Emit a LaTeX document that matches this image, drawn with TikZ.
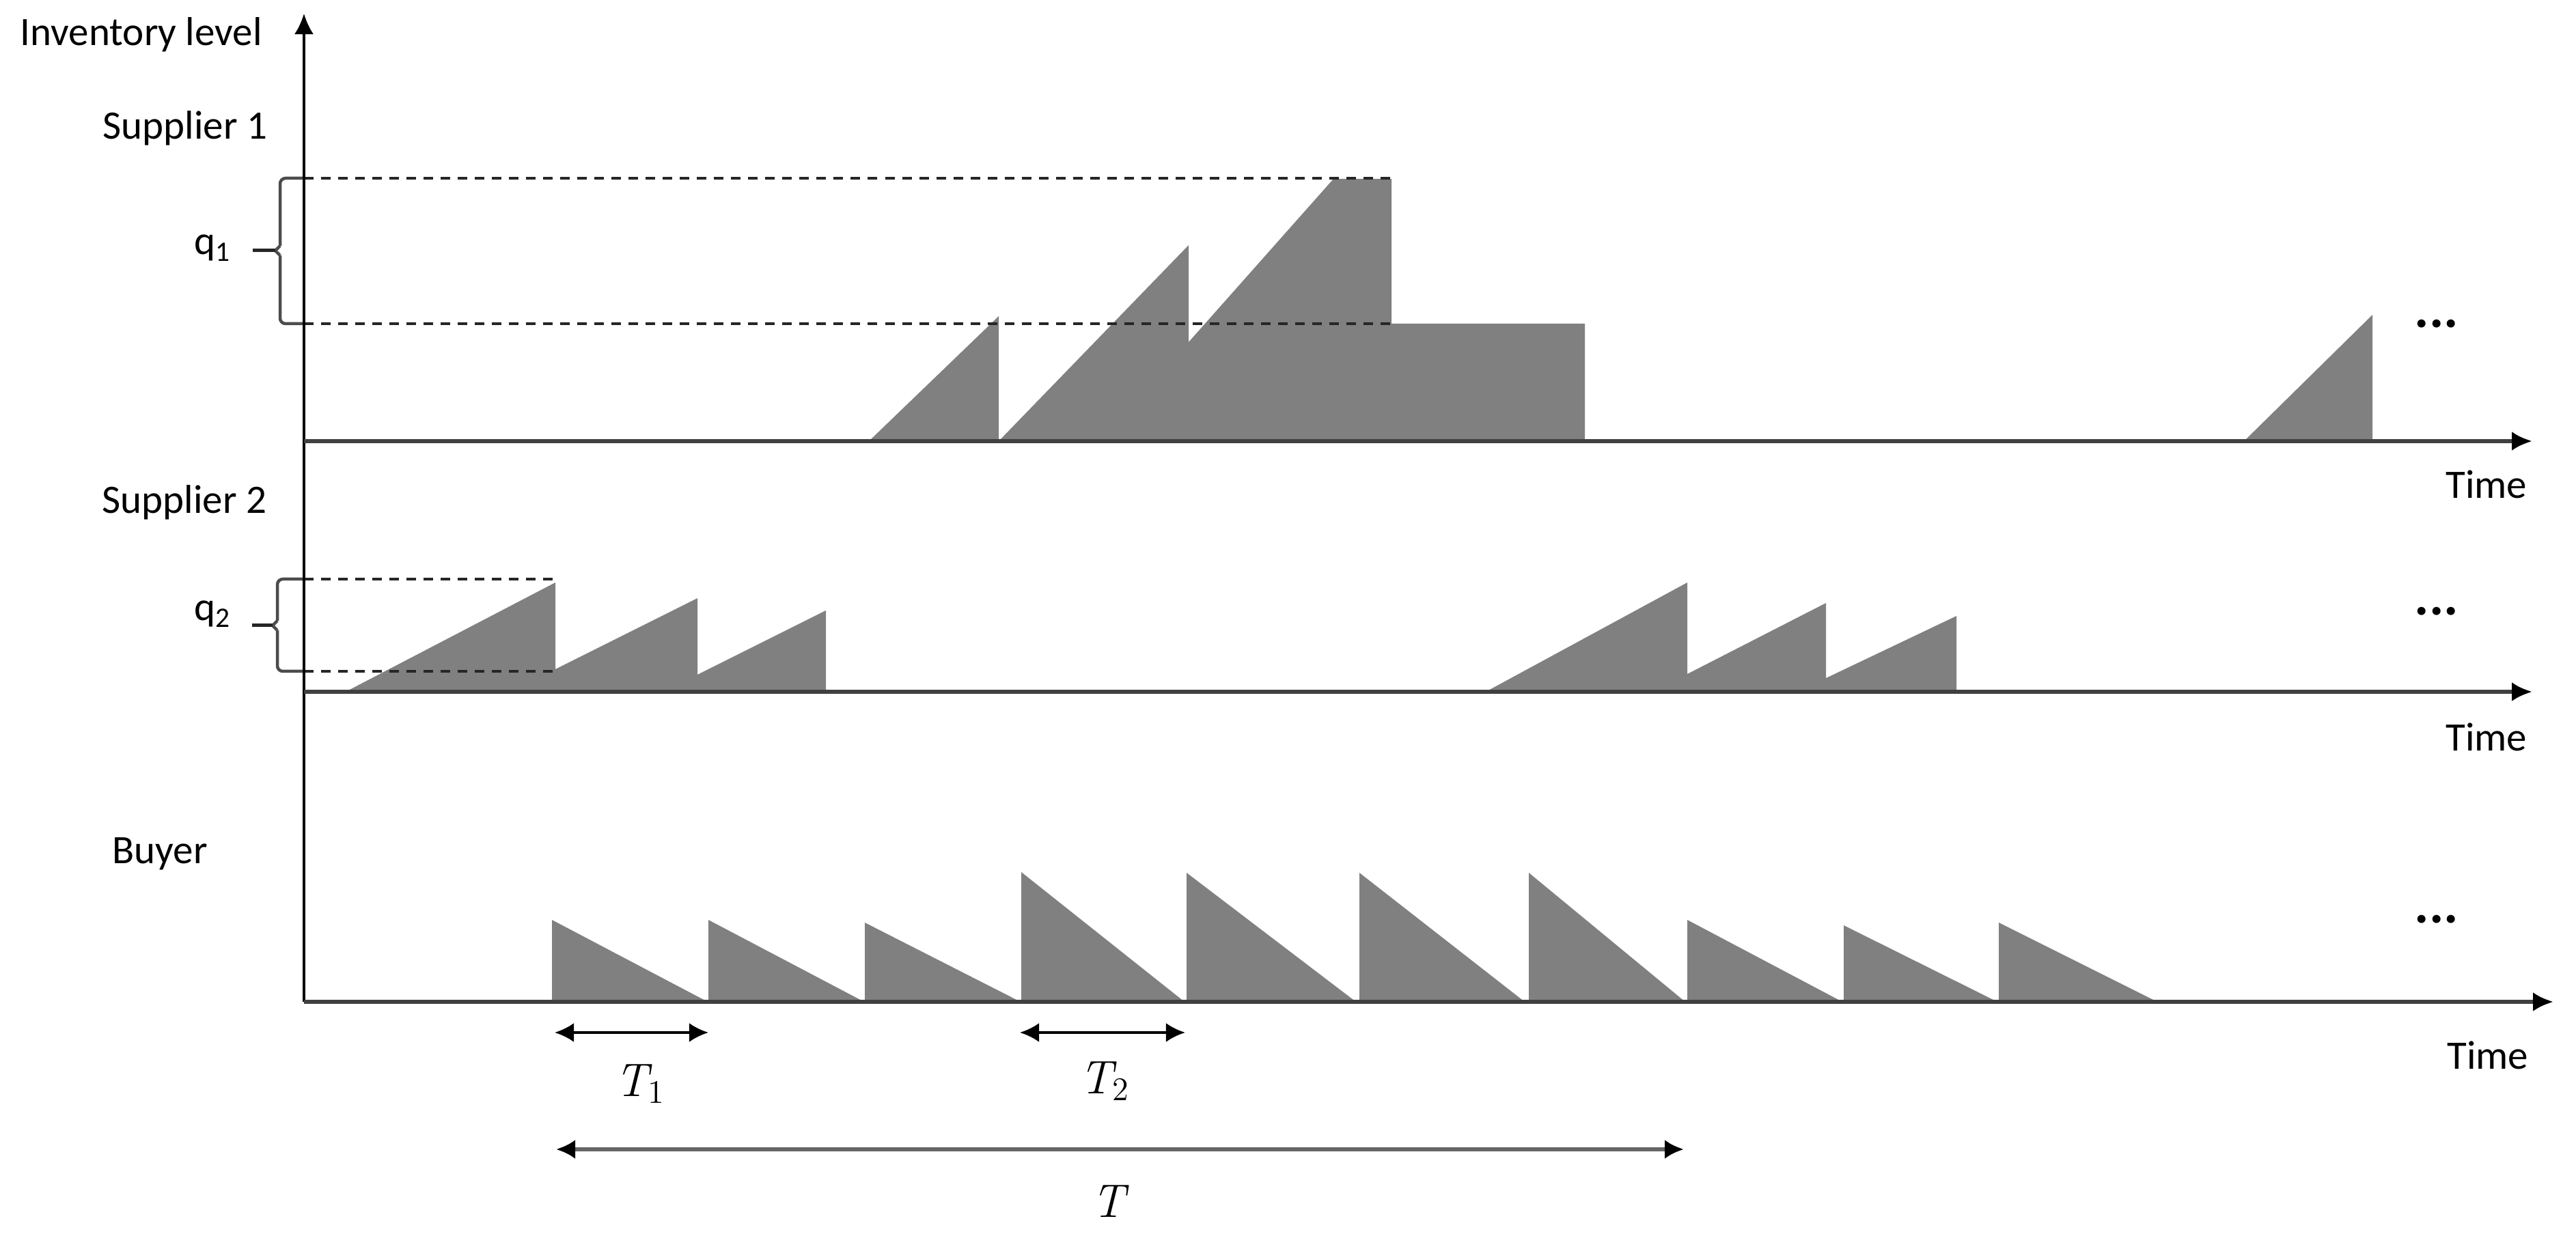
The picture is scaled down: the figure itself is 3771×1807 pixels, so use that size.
\documentclass[tikz,border=0pt]{standalone}
\usepackage{fontspec}
\setmainfont{Carlito}
\newfontfamily\lmrfont{Latin Modern Roman}
\usetikzlibrary{arrows.meta}
\definecolor{fillgray}{RGB}{128,128,128}
\begin{document}
\begin{tikzpicture}[x=0.01cm,y=-0.01cm,
  axisline/.style={line width=0.055cm, black!75, -{Latex[black,length=0.3cm,width=0.28cm]}},
  yaxisline/.style={line width=0.035cm, black, -{Latex[black,length=0.3cm,width=0.28cm]}},
  inv/.style={fill=fillgray, draw=none},
  qdash/.style={line width=0.04cm, black!85, dash pattern=on 0.14cm off 0.11cm},
  bracepen/.style={line width=0.045cm, black!70},
  dimarrow/.style={line width=0.04cm, black, {Latex[black,length=0.28cm,width=0.28cm]}-{Latex[black,length=0.28cm,width=0.28cm]}},
  longarrow/.style={line width=0.06cm, black!60, {Latex[black,length=0.28cm,width=0.28cm]}-{Latex[black,length=0.28cm,width=0.28cm]}},
  lbl/.style={font=\fontsize{16.8}{20}\selectfont, inner sep=0pt},
  dotlbl/.style={font=\bfseries\fontsize{22.8}{24}\selectfont, inner sep=0pt},
  mlbl/.style={font=\lmrfont\fontsize{19.6}{22}\selectfont, inner sep=0pt}]
\useasboundingbox (0,0) rectangle (3771,1807);

% ---------- coordinates ----------
\coordinate (O) at (445,1467);
\coordinate (ytop) at (445,20);
\coordinate (s1a) at (445,646);  \coordinate (s1b) at (3707,646);
\coordinate (s2a) at (445,1013); \coordinate (s2b) at (3707,1013);
\coordinate (ba) at (445,1467);  \coordinate (bb) at (3738,1467);

% ---------- supplier 1 inventory ----------
\fill[inv] (1272,646) -- (1462,463) -- (1462,646) -- cycle;
\fill[inv] (1462,646) -- (1740,359) -- (1740,501) -- (1952,262) -- (2037,262)
  -- (2037,474) -- (2320,474) -- (2320,646) -- cycle;
\fill[inv] (3285,646) -- (3473,461) -- (3473,646) -- cycle;

% ---------- supplier 2 inventory ----------
\fill[inv] (506,1013) -- (813,853) -- (813,980) -- (1021,876) -- (1021,988)
  -- (1209,894) -- (1209,1013) -- cycle;
\fill[inv] (2175,1013) -- (2470,853) -- (2470,987) -- (2673,883) -- (2673,993)
  -- (2864,902) -- (2864,1013) -- cycle;

% ---------- buyer inventory ----------
\foreach \xa/\yt/\xb in {808/1347/1036, 1037/1347/1265, 1266/1351/1494,
  1495/1277/1734, 1737/1278/1985, 1990/1278/2232, 2238/1278/2467,
  2470/1347/2697, 2699/1355/2924, 2926/1351/3158}
  \fill[inv] (\xa,1467) -- (\xa,\yt) -- (\xb,1467) -- cycle;

% ---------- q levels (dashed) ----------
\coordinate (q1t) at (445,261);  \coordinate (q1te) at (2037,261);
\coordinate (q1b) at (445,474);  \coordinate (q1be) at (2037,474);
\coordinate (q2t) at (445,848);  \coordinate (q2te) at (813,848);
\coordinate (q2b) at (445,983);  \coordinate (q2be) at (813,983);
\draw[qdash] (q1t) -- (q1te);
\draw[qdash] (q1b) -- (q1be);
\draw[qdash] (q2t) -- (q2te);
\draw[qdash] (q2b) -- (q2be);

% ---------- braces ----------
\draw[bracepen, rounded corners=0.08cm] (q1t) -- (410,261) -- (410,360);
\draw[bracepen] (410,360) -- (403,367) -- (410,374);
\draw[bracepen, rounded corners=0.08cm] (410,374) -- (410,474) -- (q1b);
\draw[line width=0.05cm, black!85] (370,367) -- (403,367);

\draw[bracepen, rounded corners=0.08cm] (q2t) -- (406,848) -- (406,909);
\draw[bracepen] (406,909) -- (399,916) -- (406,923);
\draw[bracepen, rounded corners=0.08cm] (406,923) -- (406,983) -- (q2b);
\draw[line width=0.05cm, black!85] (369,916) -- (399,916);

% ---------- axes ----------
\draw[yaxisline] (O) -- (ytop);
\draw[axisline] (s1a) -- (s1b);
\draw[axisline] (s2a) -- (s2b);
\draw[axisline] (ba) -- (bb);

% ---------- labels ----------
\node[lbl, anchor=base west] (invlvl) at (29,67) {Inventory level};
\node[lbl, anchor=base west] (sup1) at (150,204) {Supplier 1};
\node[lbl, anchor=base west] (sup2) at (149,752) {Supplier 2};
\node[lbl, anchor=base west] (buyer) at (164,1265) {Buyer};
\node[lbl, anchor=base] (q1) at (311,373) {q\textsubscript{1}};
\node[lbl, anchor=base] (q2) at (311,909) {q\textsubscript{2}};

\node[lbl, anchor=base east] (time1) at (3700,730) {Time};
\node[lbl, anchor=base east] (time2) at (3700,1100) {Time};
\node[lbl, anchor=base east] (time3) at (3702,1565) {Time};

\node[dotlbl, anchor=base] (dots1) at (3567,480) {...};
\node[dotlbl, anchor=base] (dots2) at (3567,901) {...};
\node[dotlbl, anchor=base] (dots3) at (3567,1352) {...};

% ---------- cycle length arrows ----------
\coordinate (t1a) at (812,1512);  \coordinate (t1b) at (1037,1512);
\coordinate (t2a) at (1493,1512); \coordinate (t2b) at (1735,1512);
\coordinate (ta) at (814,1683);   \coordinate (tb) at (2465,1683);
\draw[dimarrow] (t1a) -- (t1b);
\draw[dimarrow] (t2a) -- (t2b);
\draw[longarrow] (ta) -- (tb);

\node[mlbl, anchor=base west] (T1) at (900,1605) {\itshape T\textsubscript{\upshape 1}};
\node[mlbl, anchor=base west] (T2) at (1580,1601) {\itshape T\textsubscript{\upshape 2}};
\node[mlbl, anchor=base west] (T) at (1598,1782) {\itshape T};
\end{tikzpicture}
\end{document}
